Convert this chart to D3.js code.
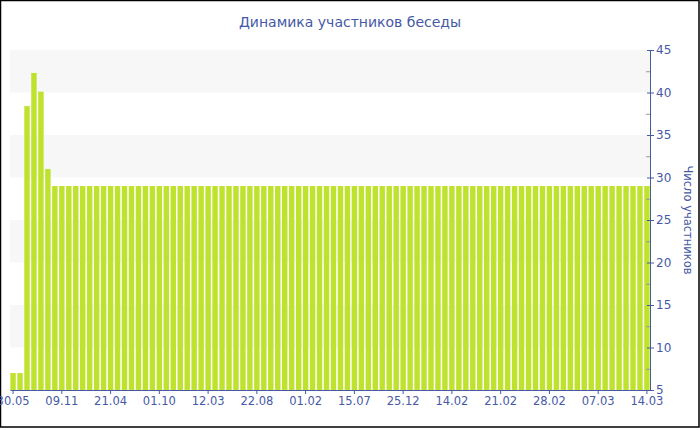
<!DOCTYPE html>
<html><head><meta charset="utf-8">
<script src="https://cdn.jsdelivr.net/npm/d3@7"></script>
<style>body{margin:0;background:#fff}svg{display:block}</style>
</head><body>
<script>
// Data
const values = [7, 7, 38.4, 42.3, 40.1, 31,
  29,29,29,29,29,29,29,29,29,29,29,29,29,29,29,29,29,29,29,29,29,29,29,29,
  29,29,29,29,29,29,29,29,29,29,29,29,29,29,29,29,29,29,29,29,29,29,29,29,
  29,29,29,29,29,29,29,29,29,29,29,29,29,29,29,29,29,29,29,29,29,29,29,29,
  29,29,29,29,29,29,29,29,29,29,29,29,29,29];
const categories = d3.range(values.length);
const tickLabels = ["30.05","09.11","21.04","01.10","12.03","22.08","01.02","15.07","25.12","14.02","21.02","28.02","07.03","14.03"];
const tickStep = 7;
const yTicks = [5,10,15,20,25,30,35,40,45];
const title = "Динамика участников беседы";
const yTitle = "Число участников";

const W = 700, H = 430;
const m = {left: 10, right: 50, top: 50, bottom: 40};
const txt = "#4659a6";
const svg = d3.select("body").append("svg").attr("width", W).attr("height", H);

svg.append("rect").attr("x",0.5).attr("y",0.5).attr("width",698.5).attr("height",426.5)
  .attr("fill","#fff").attr("stroke","#000").attr("stroke-width",1.5);

const x = d3.scaleBand().domain(categories).range([m.left, W - m.right]).paddingInner(0.22).paddingOuter(0.05);
const y = d3.scaleLinear().domain([5,45]).range([H - m.bottom, m.top]);

// stripes
for (let i = 0; i < yTicks.length - 1; i++) {
  if (i % 2 === 1) {
    svg.append("rect").attr("x", m.left).attr("width", W - m.right - m.left)
      .attr("y", y(yTicks[i+1])).attr("height", y(yTicks[i]) - y(yTicks[i+1]))
      .attr("fill", "#f7f7f7");
  }
}

svg.append("g").selectAll("rect").data(values).join("rect")
  .attr("x", (d,i) => x(categories[i]))
  .attr("width", x.bandwidth())
  .attr("y", d => y(d))
  .attr("height", d => y(5) - y(d))
  .attr("fill", "#bfe22f");

// x axis
const xAxis = d3.axisBottom(x)
  .tickValues(categories.filter(i => i % tickStep === 0))
  .tickFormat(i => tickLabels[i / tickStep])
  .tickSizeInner(4).tickSizeOuter(0).tickPadding(3);
const gx = svg.append("g").attr("transform", `translate(0,${H - m.bottom})`).call(xAxis);
gx.select(".domain").attr("stroke", txt);
gx.selectAll(".tick line").attr("stroke", txt);
gx.selectAll("text").attr("fill", txt).style("font-family","DejaVu Sans").style("font-size","11.5px");

// y axis right
const minor = d3.range(7.5, 45, 5);
const gm = svg.append("g").attr("transform", `translate(${W - m.right},0)`)
  .call(d3.axisLeft(y).tickValues(minor).tickSize(4).tickFormat(""));
gm.select(".domain").remove();
gm.selectAll(".tick line").attr("stroke", "#999");
const gy = svg.append("g").attr("transform", `translate(${W - m.right},0)`)
  .call(d3.axisRight(y).tickValues(yTicks).tickSizeInner(4).tickSizeOuter(0).tickPadding(2));
gy.select(".domain").attr("stroke", txt);
gy.selectAll(".tick line").attr("stroke", txt).attr("x1", -3);
gy.selectAll("text").attr("fill", txt).style("font-family","DejaVu Sans").style("font-size","12px");

svg.append("text").attr("x", 350).attr("y", 27).attr("text-anchor","middle")
  .attr("fill", txt).style("font-family","DejaVu Sans").style("font-size","14px").text(title);

svg.append("text").attr("transform", `translate(684,${(m.top + H - m.bottom)/2}) rotate(90)`)
  .attr("text-anchor","middle").attr("fill", txt)
  .style("font-family","DejaVu Sans").style("font-size","11.5px").text(yTitle);
</script>
</body></html>
